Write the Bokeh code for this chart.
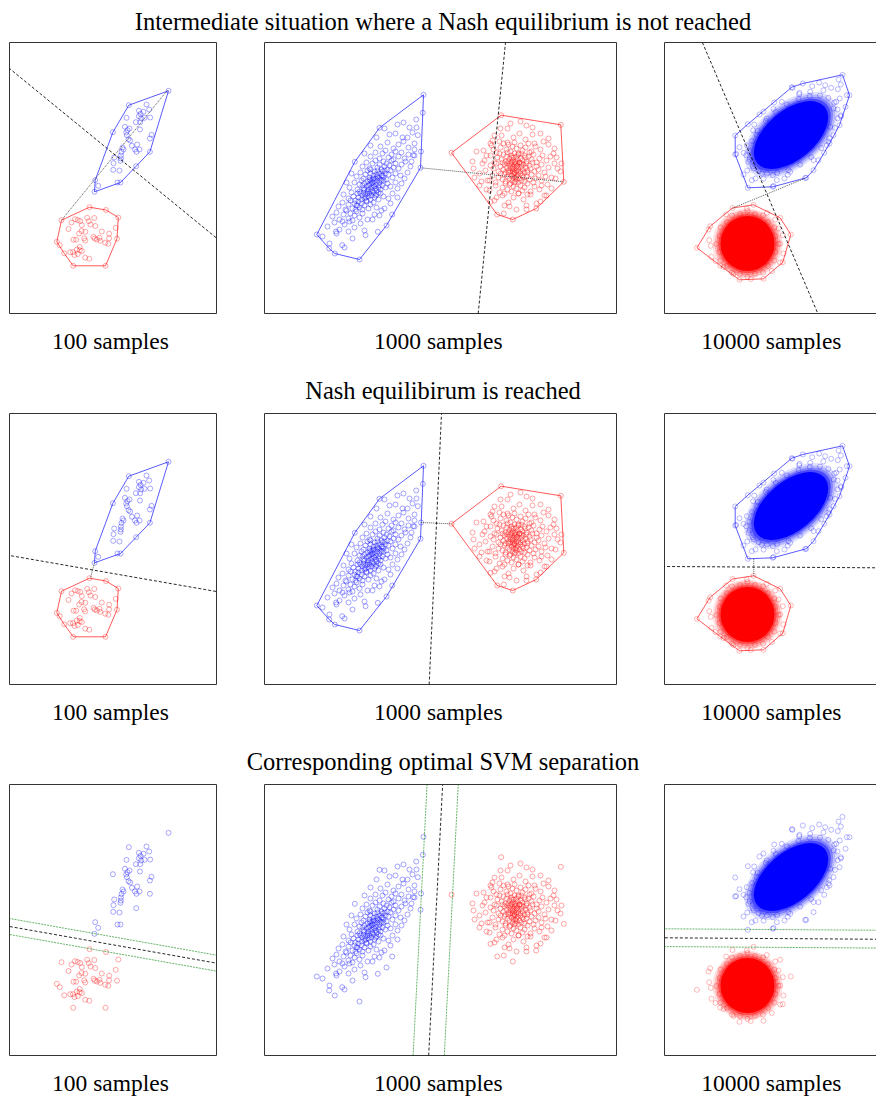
from bokeh.plotting import figure
from bokeh.layouts import column, row
from bokeh.models import Range1d, Slope, LinearAxis, FixedTicker
from bokeh.core.properties import value
from bokeh.embed import file_html
from bokeh.resources import INLINE

# ------------------------------------------------------------------ data
ROW_TITLES = [
    "Intermediate situation where a Nash equilibrium is not reached",
    "Nash equilibirum is reached",
    "Corresponding optimal SVM separation",
]
SAMPLE_LABELS = ["100 samples", "1000 samples", "10000 samples"]

# data extent of each column of panels (arbitrary units)
PANEL_X_RANGE = [(0, 207), (0, 352), (0, 212)]
PANEL_Y_RANGE = [(0, 271), (0, 271), (0, 271)]

BLUE_100 = [(159, 222.7), (119.3, 208.3), (137, 209), (139.7, 204), (129.4, 202.7), (134, 201.7),
            (131, 199.7), (129.4, 197.3), (135, 195.7), (131.7, 195), (126.4, 191.3), (130.7, 191.3),
            (140.7, 196), (117, 195.7), (130.4, 184), (115.4, 186.7), (118, 183.3), (116.7, 181),
            (117.4, 178.3), (119, 174.3), (120.7, 173), (103.4, 181.3), (142, 178.7), (140.4, 175),
            (127.7, 169), (122.4, 167.7), (125.4, 164), (130, 164), (127, 161.7), (113, 166), (114, 164),
            (112, 161.5), (111.4, 158), (111.4, 155), (104.7, 156), (111, 152.7), (104, 150.3), (110, 143),
            (103.7, 143.7), (126.7, 147.3), (140.4, 161.7), (85.7, 133.3), (88.7, 127.7), (108, 131),
            (111, 131), (85, 121.7), (120, 185)]
RED_100 = [(80, 106.3), (96.5, 103.5), (52, 93.3), (65.5, 94.3), (68.2, 93.5), (70.7, 92.5), (77.7, 95.7),
           (84.8, 95.5), (108.8, 96), (79.3, 92.3), (72.3, 88.3), (59, 84.5), (85.8, 87.5), (106.2, 85.7),
           (72, 82.5), (75.8, 81.8), (92.3, 82), (99.7, 79.8), (69.6, 80), (64, 73.8), (66.7, 73.8),
           (74.7, 75.2), (75.7, 73), (84, 76.7), (85.2, 75), (87.3, 74), (90, 75.7), (90.7, 72.7),
           (99.6, 75.2), (107.5, 74.8), (95.7, 70.8), (98.8, 69.8), (47.3, 71.7), (50.2, 68.3), (54.7, 60.2),
           (60.7, 61.3), (63.5, 61.3), (67.3, 64), (70.2, 63.3), (72.4, 62.5), (65, 58.5), (68.3, 59.5),
           (75.7, 55.8), (79.8, 54.8), (63.7, 47.7), (96, 47.7), (70.3, 66.5), (81, 89), (62, 91)]

BLUE_1000 = [
    (85, 126), (90, 131), (93, 124), (95, 129), (97, 133), (99, 125), (100, 130), (102, 127), (103, 132),
    (104, 124), (105, 129), (106, 133), (107, 126), (107, 130), (108, 123), (109, 128), (110, 132),
    (111, 125), (112, 129), (113, 133), (114, 126), (115, 131), (116, 124), (118, 128), (119, 133),
    (121, 126), (123, 130), (126, 127), (131, 131),
    (79, 119), (84, 115), (87, 121), (89, 117), (91, 113), (93, 120), (94, 116), (95, 122), (97, 114),
    (98, 118), (99, 121), (100, 115), (101, 119), (102, 113), (103, 122), (104, 117), (105, 120),
    (106, 114), (107, 118), (109, 121), (110, 116), (112, 119), (114, 114), (116, 120), (119, 117), (124, 115),
    (92, 137), (96, 141), (99, 135), (101, 139), (103, 143), (105, 136), (106, 140), (108, 134), (109, 138),
    (110, 142), (111, 135), (112, 139), (113, 143), (114, 136), (115, 140), (116, 134), (117, 138),
    (118, 142), (119, 136), (121, 140), (122, 134), (124, 139), (126, 143), (128, 136), (131, 140), (136, 138),
    (74, 107), (78, 111), (81, 104), (84, 109), (86, 113), (88, 105), (90, 110), (91, 104), (93, 108),
    (94, 112), (95, 106), (97, 110), (98, 104), (100, 108), (102, 112), (104, 105), (106, 109), (109, 111),
    (112, 106), (117, 103),
    (98, 147), (102, 151), (105, 145), (108, 150), (111, 153), (113, 146), (115, 149), (117, 144), (119, 152),
    (120, 147), (122, 150), (123, 144), (125, 148), (127, 153), (129, 146), (131, 150), (134, 145),
    (137, 149), (141, 152), (146, 147),
    (68, 97), (72, 101), (75, 94), (79, 99), (82, 103), (84, 95), (86, 100), (88, 93), (90, 98), (92, 102),
    (95, 96), (98, 100), (103, 94), (110, 99),
    (106, 157), (111, 161), (115, 155), (118, 160), (121, 163), (124, 156), (127, 159), (129, 154),
    (131, 162), (134, 157), (137, 161), (140, 155), (144, 159), (150, 158),
    (63, 87), (70, 91), (75, 84), (80, 89), (85, 92), (90, 86), (100, 83),
    (116, 167), (123, 171), (129, 165), (134, 169), (139, 172), (144, 166), (150, 170),
    (58, 77), (72, 80), (88, 75), (125, 179), (138, 176), (148, 181), (65, 70), (80, 66), (133, 189), (152, 186),
    (104, 128), (106, 122), (108, 131), (110, 127), (112, 123), (109, 135), (105, 134), (103, 120), (100, 124),
    (113, 137), (115, 128), (117, 133), (101, 116), (98, 128), (96, 120), (111, 118), (114, 121), (118, 138),
    (106, 144), (120, 143),
    (82, 131), (87, 140), (128, 120), (133, 125), (137, 130), (140, 135), (133, 116), (126, 110), (120, 105),
    (115, 98), (108, 94), (143, 141), (147, 152), (150, 164), (96, 90), (84, 82), (100, 160), (106, 168),
    (112, 176), (120, 185), (131, 180), (143, 176), (145, 186), (92, 108), (78, 92),
    (159, 218.7), (158.3, 200.7), (156.5, 162), (156, 145.7), (122, 88), (95, 54), (70.3, 60), (64.7, 65),
    (52.3, 79), (90.3, 151.7), (115, 185.7), (127.7, 99), (139, 191), (151.7, 194), (153.3, 178.3),
    (148.7, 158.3), (113.3, 81.7), (101, 78.3), (77.7, 68.3), (71.5, 82)]

RED_1000 = [
    (221, 143), (226, 148), (229, 145), (232, 150), (234, 142), (236, 147), (238, 151), (239, 144), (240, 149),
    (241, 141), (242, 146), (243, 150), (244, 143), (245, 148), (246, 145), (247, 151), (248, 142), (248, 147),
    (249, 144), (250, 149), (250, 141), (251, 146), (252, 150), (252, 143), (253, 148), (254, 145), (255, 151),
    (256, 142), (257, 147), (258, 144), (259, 149), (260, 141), (261, 146), (262, 150), (263, 143), (265, 148),
    (266, 145), (268, 151), (270, 142), (272, 147), (274, 144), (277, 149), (280, 141), (284, 146), (290, 150),
    (223, 133), (228, 138), (231, 131), (234, 136), (236, 140), (238, 134), (240, 139), (241, 132), (243, 137),
    (244, 141), (245, 135), (246, 130), (247, 138), (248, 133), (249, 136), (250, 140), (251, 132), (252, 137),
    (252, 134), (253, 139), (254, 131), (255, 135), (256, 140), (257, 133), (258, 138), (259, 136), (260, 132),
    (262, 137), (263, 141), (265, 134), (267, 139), (269, 131), (271, 135), (274, 138), (277, 133), (281, 137),
    (287, 136),
    (220, 153), (226, 158), (230, 151), (233, 156), (235, 160), (237, 154), (239, 159), (241, 152), (242, 157),
    (243, 161), (245, 155), (246, 150), (247, 158), (248, 153), (249, 156), (250, 160), (251, 152), (252, 157),
    (253, 154), (254, 159), (255, 151), (256, 155), (257, 160), (258, 153), (260, 158), (261, 156), (262, 152),
    (264, 157), (265, 161), (267, 154), (269, 159), (272, 151), (275, 155), (278, 158), (282, 153), (286, 157),
    (292, 156),
    (225, 123), (231, 128), (235, 121), (238, 126), (241, 130), (243, 124), (245, 129), (247, 122), (249, 127),
    (250, 131), (252, 125), (254, 120), (256, 128), (258, 123), (260, 126), (263, 130), (266, 122), (270, 127),
    (275, 124), (283, 129),
    (219, 163), (227, 168), (232, 161), (236, 166), (239, 170), (242, 164), (244, 169), (246, 162), (248, 167),
    (250, 171), (252, 165), (254, 160), (256, 168), (258, 163), (261, 166), (264, 170), (267, 162), (271, 167),
    (276, 164), (284, 169),
    (230, 113), (238, 118), (244, 111), (249, 116), (254, 120), (259, 114), (266, 119), (276, 112),
    (228, 173), (237, 178), (243, 171), (249, 176), (255, 180), (261, 174), (268, 179), (279, 172),
    (245, 107), (262, 104), (243, 185), (262, 188),
    (215, 140), (218, 150), (222, 158), (226, 170), (230, 178), (236, 185), (246, 190), (256, 192), (268, 186),
    (276, 180), (284, 175), (289, 160), (293, 145), (291, 135), (287, 125), (282, 118), (272, 110), (262, 108),
    (252, 104), (240, 108), (232, 116), (222, 124), (217, 132), (225, 133), (229, 164), (270, 170), (277, 128),
    (240, 120), (263, 119), (235, 172),
    (248, 145), (252, 147), (250, 151), (246, 142), (254, 142), (249, 139), (244, 152), (257, 150), (251, 136),
    (247, 156),
    (236.7, 198.3), (296.3, 188.7), (299.3, 131.7), (297, 150), (271.7, 105), (248.3, 94), (232.7, 99),
    (239.3, 100), (226, 111.7), (187, 160.7), (208, 152), (209, 145), (210, 136), (290, 165), (296, 142),
    (280, 118), (212, 162), (215, 128)]

# 10000 samples: saturated core (density contours) + the sparse fringe points
BLUE_10000_CORE = dict(x=126.5, y=178.5, angle_deg=40,
                       semi_axes=[(55, 32), (52, 30), (49.5, 28), (47, 26.2), (44, 24.5)])
RED_10000_CORE = dict(x=83, y=70, angle_deg=0,
                      semi_axes=[(35, 35), (33, 33.5), (31, 31.5), (29, 29.5), (27, 27.5)])
BLUE_10000_FRINGE = [
    (178, 238.7), (185, 218.3), (175, 188.3), (141.7, 135.7), (108.3, 126.7), (83.3, 125.7), (70.7, 159),
    (70.7, 178), (127.3, 226.3), (138.3, 230),
    (174, 234), (176.3, 229), (182.3, 218.3), (173.3, 224.3), (166.7, 225.7), (160.7, 228.3), (154.7, 231),
    (147.7, 227.3), (128, 225.7), (135, 220.7), (109.7, 211), (99, 202), (95, 199), (89.7, 189), (83.3, 189.3),
    (75, 166.3), (71.7, 159.5), (81.7, 158.3), (84, 151.7), (79, 139), (87.3, 133.3), (91, 135), (97.3, 140),
    (108.3, 138.3), (109, 127.5), (112.3, 133.3), (120, 135), (125.7, 141.7), (140.7, 135.5), (149, 143.3),
    (154, 153.3), (159.7, 160.7), (165, 170), (169, 178.3), (176.3, 198.3), (181, 206.7), (171.7, 211.7),
    (169, 205), (165.7, 186.7), (162.3, 168.3), (89, 145), (82.3, 168.3), (92.3, 178.3), (102.3, 195),
    (117.3, 211.7), (145.7, 221.7),
    (169.8, 210.9), (163.8, 215.7), (155.5, 218), (145.3, 217.5), (134.1, 214.5), (122.4, 209.1), (111.3, 201.7),
    (101.3, 192.6), (93.2, 182.7), (87.6, 172.4), (84.8, 162.8), (85, 154), (88.2, 147.1), (94.2, 142.3),
    (102.5, 140), (112.7, 140.5), (123.9, 143.5), (135.6, 148.9), (146.7, 156.3), (156.7, 165.4),
    (164.8, 175.3), (170.4, 185.6), (173.2, 195.2), (173, 204),
    (175.2, 215), (158.9, 223.1), (134.7, 219.2), (109, 204.6), (88.6, 183.2), (79.1, 160.7), (82.8, 143),
    (99.1, 134.9), (123.3, 138.8), (149, 153.4), (164, 172), (176.5, 197)]
RED_10000_FRINGE = [
    (32.4, 65.7), (45.7, 87.3), (68, 105.5), (89, 108.7), (115.7, 95.7), (126.3, 79), (118.3, 51.3), (99, 34.7),
    (75, 33.7), (55.7, 48),
    (44, 84), (61.7, 99), (82.3, 105), (102.3, 100.5), (110.7, 94), (118.3, 78.3), (119, 60), (115.7, 51),
    (107.3, 42.5), (86.3, 34.5), (69, 39.5), (59, 46.5), (51, 52.5), (47, 56.7), (44.7, 73.3), (46.3, 67.7),
    (115.7, 70), (114, 85),
    (114, 69.5), (109.8, 86), (98.5, 98.1), (83, 102.5), (67.5, 98.1), (56.2, 86), (52, 69.5), (56.2, 53),
    (67.5, 40.9), (83, 36.5), (98.5, 40.9), (109.8, 53),
    (111, 77.5), (103.5, 91.4), (90.5, 99.4), (75.5, 99.4), (62.5, 91.4), (55, 77.5), (55, 61.5), (62.5, 47.6),
    (75.5, 39.6), (90.5, 39.6), (103.5, 47.6), (111, 61.5)]

# separating lines  y = gradient * x + intercept   (one per column)
NASH_NOT_REACHED_LINE = [(-0.819, 245.0), (9.916, -2119.0), (-2.348, 360.0)]
NASH_REACHED_LINE = [(-0.174, 129.0), (22.0, -3623.0), (-0.0061, 118.0)]
SVM_LINE = [(-0.177, 129.0), (19.4, -3185.0), (-0.0068, 117.7)]
SVM_MARGIN_INTERCEPTS = [(137.0, 121.0), (-2883.0, -3488.0), (126.7, 108.9)]
# segments joining the two players' current strategies
NASH_NOT_REACHED_LINK = [((52.3, 93.7), (158.0, 223.3)), ((156.0, 145.7), (299.3, 131.7)),
                         ((67.3, 105.0), (141.7, 135.7))]
NASH_REACHED_LINK = [((85.0, 121.7), (81.0, 107.0)), ((156.3, 162.0), (187.0, 160.7)),
                     ((89.3, 125.7), (89.3, 108.7))]

# ------------------------------------------------------------------ style / layout
FONT = "Liberation Serif"
FRAME_COLOR = "#333333"
BLUE = "#0000ff"
RED = "#ff0000"
TOTAL_W = 876
FIG_W = [240, 400, 236]
BORDER_L = [9, 24, 24]
BORDER_R = [24, 24, 0]
FIG_H = 273
LABEL_X = [110, 437.8, 770.8]
TITLE_X = 442.5
POINT_ALPHA = [0.38, 0.4, 0.3]
CORE_ALPHAS = [0.12, 0.18, 0.28, 0.45, 1.0]


def convex_hull(pts):
    pts = sorted(set(pts))

    def cross(o, a, b):
        return (a[0] - o[0]) * (b[1] - o[1]) - (a[1] - o[1]) * (b[0] - o[0])

    lower, upper = [], []
    for q in pts:
        while len(lower) >= 2 and cross(lower[-2], lower[-1], q) <= 0:
            lower.pop()
        lower.append(q)
    for q in reversed(pts):
        while len(upper) >= 2 and cross(upper[-2], upper[-1], q) <= 0:
            upper.pop()
        upper.append(q)
    return lower[:-1] + upper[:-1]


def border_axis():
    return LinearAxis(ticker=FixedTicker(ticks=[]), axis_line_color=FRAME_COLOR, axis_line_width=1,
                      major_tick_line_color=None, minor_tick_line_color=None,
                      major_label_text_font_size="0px", major_tick_in=0, major_tick_out=0,
                      minor_tick_in=0, minor_tick_out=0, major_label_standoff=0)


CLOUDS = [(BLUE_100, RED_100), (BLUE_1000, RED_1000), (BLUE_10000_FRINGE, RED_10000_FRINGE)]
CORES = [None, None, (BLUE_10000_CORE, RED_10000_CORE)]


def panel(i, kind):
    p = figure(width=FIG_W[i], height=FIG_H,
               x_range=Range1d(*PANEL_X_RANGE[i]), y_range=Range1d(*PANEL_Y_RANGE[i]),
               min_border_left=BORDER_L[i], min_border_right=BORDER_R[i],
               min_border_top=1, min_border_bottom=1,
               x_axis_type=None, y_axis_type=None, toolbar_location=None, tools="",
               output_backend="svg", title=None,
               background_fill_color="white", border_fill_color="white",
               outline_line_color=FRAME_COLOR if i < 2 else None, outline_line_width=1)
    if i == 2:
        p.add_layout(border_axis(), "left")
        p.add_layout(border_axis(), "above")
        p.add_layout(border_axis(), "below")

    blue, red = CLOUDS[i]
    if CORES[i] is not None:
        for core, col in zip(CORES[i], (BLUE, RED)):
            for (a, b), alpha in zip(core["semi_axes"], CORE_ALPHAS):
                p.ellipse(x=[core["x"]], y=[core["y"]], width=[2 * a], height=[2 * b],
                          angle=core["angle_deg"], angle_units="deg",
                          fill_color=col, fill_alpha=alpha, line_color=None)
    for pts, col in ((blue, BLUE), (red, RED)):
        p.scatter([q[0] for q in pts], [q[1] for q in pts], marker="circle", size=5,
                  fill_color=None, line_color=col, line_alpha=POINT_ALPHA[i], line_width=0.9)

    if kind in (0, 1):
        for pts, col in ((blue, BLUE), (red, RED)):
            h = convex_hull(pts)
            p.patch([q[0] for q in h], [q[1] for q in h], fill_color=None,
                    line_color=col, line_alpha=0.65, line_width=1)
        link = (NASH_NOT_REACHED_LINK if kind == 0 else NASH_REACHED_LINK)[i]
        p.line([link[0][0], link[1][0]], [link[0][1], link[1][1]],
               line_color="#555555", line_dash="1 1", line_width=1)
        g, b = (NASH_NOT_REACHED_LINE if kind == 0 else NASH_REACHED_LINE)[i]
        p.add_layout(Slope(gradient=g, y_intercept=b, line_color="black", line_alpha=0.85,
                           line_dash="3 2", line_width=1))
    else:
        g, b = SVM_LINE[i]
        for bm in SVM_MARGIN_INTERCEPTS[i]:
            p.add_layout(Slope(gradient=g, y_intercept=bm, line_color="green", line_alpha=0.6,
                               line_dash="2 1", line_width=1))
        p.add_layout(Slope(gradient=g, y_intercept=b, line_color="black", line_alpha=0.85,
                           line_dash="3 2", line_width=1))
    return p


def strip(height, items):
    p = figure(width=TOTAL_W, height=height, x_range=Range1d(0, TOTAL_W), y_range=Range1d(0, height),
               min_border_left=0, min_border_right=0, min_border_top=0, min_border_bottom=0,
               x_axis_type=None, y_axis_type=None, toolbar_location=None, tools="",
               output_backend="svg", title=None, outline_line_color=None,
               background_fill_color="white", border_fill_color="white")
    for x, y, t, fs in items:
        p.text(x=[x], y=[y], text=[t], text_font=value(FONT), text_font_size=fs,
               text_align="center", text_baseline="alphabetic", text_color="black")
    return p


TITLE_FS = "24.5px"
LABEL_FS = "23.5px"
top = strip(41, [(TITLE_X, 20, ROW_TITLES[0], TITLE_FS)])
mid1 = strip(98, [(x, 71.7, s, LABEL_FS) for x, s in zip(LABEL_X, SAMPLE_LABELS)]
             + [(TITLE_X, 21.7, ROW_TITLES[1], TITLE_FS)])
mid2 = strip(98, [(x, 71.7, s, LABEL_FS) for x, s in zip(LABEL_X, SAMPLE_LABELS)]
             + [(TITLE_X, 21.7, ROW_TITLES[2], TITLE_FS)])
bot = strip(41, [(x, 15, s, LABEL_FS) for x, s in zip(LABEL_X, SAMPLE_LABELS)])

layout = column(top,
                row(*[panel(i, 0) for i in range(3)]),
                mid1,
                row(*[panel(i, 1) for i in range(3)]),
                mid2,
                row(*[panel(i, 2) for i in range(3)]),
                bot)

open("out.html", "w").write(file_html(layout, INLINE, title="Nash equilibrium vs SVM"))
